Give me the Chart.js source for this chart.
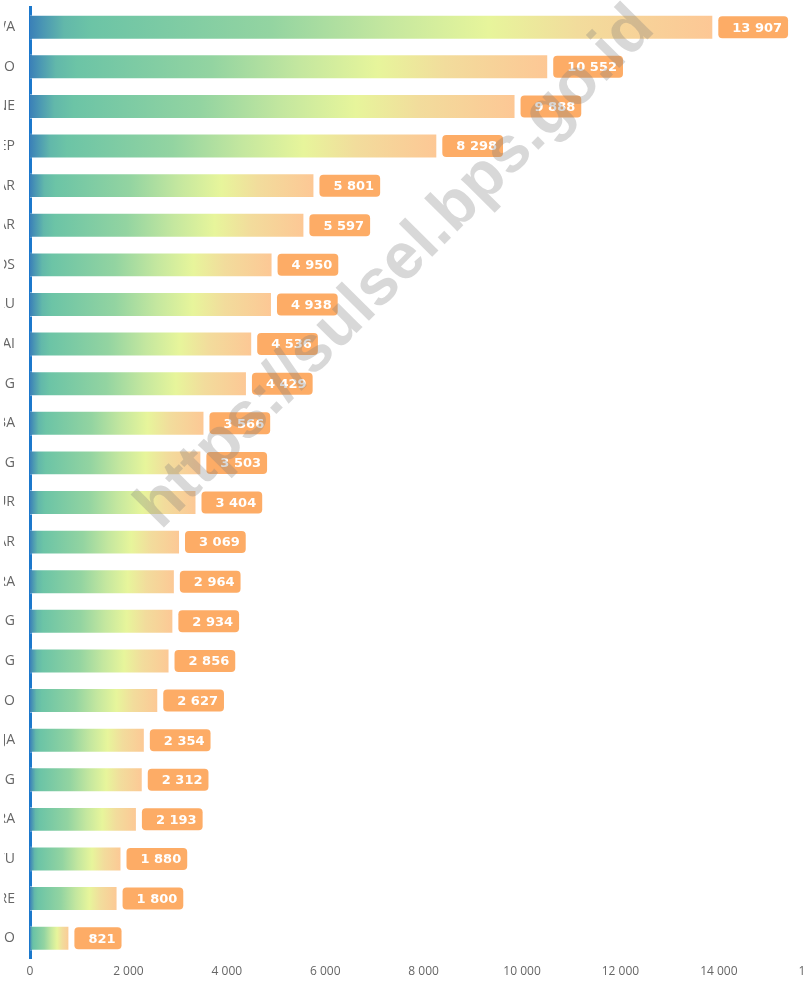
<!DOCTYPE html>
<html>
<head>
<meta charset="utf-8">
<script src="https://cdn.jsdelivr.net/npm/chart.js@4"></script>
<style>
  html, body { margin: 0; padding: 0; background: #fff; overflow: hidden; }
  #bingkai { position: absolute; left: 4px; top: 0; width: 801px; height: 983px; overflow: hidden; }
  #wrap { position: absolute; left: -204px; top: -16px; width: 1042px; height: 999px; }
</style>
</head>
<body>
<div id="bingkai"><div id="wrap"><canvas id="grafik"></canvas></div></div>
<script>
// kabupaten/kota (yang terlihat hanya huruf terakhir)
var wilayah = ["GOWA", "WAJO", "BONE", "PANGKEP", "MAKASSAR", "TAKALAR", "MAROS", "BARRU",
  "SINJAI", "PINRANG", "BULUKUMBA", "SOPPENG", "LUWU TIMUR", "SELAYAR", "LUWU UTARA",
  "SIDENRENG RAPPANG", "ENREKANG", "JENEPONTO", "TANA TORAJA", "BANTAENG", "TORAJA UTARA",
  "LUWU", "PAREPARE", "PALOPO"];
var nilai = [13907, 10552, 9888, 8298, 5801, 5597, 4950, 4938, 4536, 4429, 3566, 3503,
  3404, 3069, 2964, 2934, 2856, 2627, 2354, 2312, 2193, 1880, 1800, 821];
var xMin = 0, xMax = 16000, xStep = 2000;

function ribuan(v) {
  return String(Math.round(v)).replace(/\B(?=(\d{3})+(?!\d))/g, " ");
}

// gradien per batang, dari pangkal ke ujung batang
function warnaBatang(ctx) {
  var chart = ctx.chart;
  if (!chart.chartArea || ctx.dataIndex === undefined) return "#6cc4a6";
  var x = chart.scales.x;
  var x0 = x.getPixelForValue(0);
  var x1 = x.getPixelForValue(nilai[ctx.dataIndex]);
  var g = chart.ctx.createLinearGradient(x0, 0, x1, 0);
  g.addColorStop(0, "#3a80b8");
  g.addColorStop(0.02, "#4b98b3");
  g.addColorStop(0.05, "#62b8aa");
  g.addColorStop(0.09, "#6cc4a6");
  g.addColorStop(0.35, "#93d4a1");
  g.addColorStop(0.52, "#c4e79f");
  g.addColorStop(0.67, "#e7f59b");
  g.addColorStop(0.8, "#f2dc9c");
  g.addColorStop(1, "#fdc795");
  return g;
}

// kotak label oranye di ujung batang
var labelNilai = {
  id: "labelNilai",
  afterDatasetsDraw: function (chart) {
    var c = chart.ctx;
    var meta = chart.getDatasetMeta(0);
    c.save();
    c.font = "bold 13px 'DejaVu Sans', sans-serif";
    c.textBaseline = "middle";
    c.textAlign = "right";
    meta.data.forEach(function (bar, i) {
      var t = ribuan(nilai[i]);
      var w = c.measureText(t).width + 20;
      var h = 22;
      var bx = bar.x + 4;
      var by = bar.y - h / 2;
      c.fillStyle = "#fdac66";
      c.beginPath();
      c.roundRect(bx, by, w, h, 4);
      c.fill();
      c.fillStyle = "#ffffff";
      c.fillText(t, bx + w - 6, bar.y + 1);
    });
    c.restore();
  }
};

// tanda air
var tandaAir = {
  id: "tandaAir",
  afterDraw: function (chart) {
    var c = chart.ctx;
    var teks = "https://sulsel.bps.go.id";
    c.save();
    c.font = "bold 50px 'Liberation Sans', sans-serif";
    var uk = 50 * 705 / c.measureText(teks).width;
    c.font = "bold " + uk.toFixed(1) + "px 'Liberation Sans', sans-serif";
    c.translate(200 + 396, 16 + 268);
    c.rotate(-Math.atan2(515, 510));
    c.textAlign = "center";
    c.textBaseline = "middle";
    c.fillStyle = "rgba(125,125,125,0.3)";
    c.fillText(teks, 0, 0);
    c.restore();
  }
};

new Chart(document.getElementById("grafik"), {
  type: "bar",
  data: {
    labels: wilayah,
    datasets: [{
      data: nilai,
      backgroundColor: warnaBatang,
      borderColor: "rgba(255,255,255,0.45)",
      borderWidth: { top: 1, bottom: 1, right: 2, left: 0 },
      borderSkipped: "left",
      barPercentage: 0.63,
      categoryPercentage: 1
    }]
  },
  options: {
    indexAxis: "y",
    responsive: true,
    maintainAspectRatio: false,
    animation: false,
    layout: { padding: { top: 5, right: 12, left: 0, bottom: 0 } },
    plugins: {
      legend: { display: false },
      tooltip: { enabled: false }
    },
    scales: {
      x: {
        min: xMin,
        max: xMax,
        ticks: {
          stepSize: xStep,
          padding: 6,
          color: "#666",
          font: { family: "'Open Sans', sans-serif", size: 12 },
          callback: function (v) { return ribuan(v); }
        },
        grid: { display: false, drawTicks: false },
        border: { display: false },
        afterFit: function (s) { s.height = 25; }
      },
      y: {
        ticks: {
          padding: 15,
          color: "#666",
          font: { family: "'Open Sans', sans-serif", size: 14 }
        },
        grid: { display: false, drawTicks: false },
        border: { display: true, color: "#1b78cc", width: 3 },
        afterFit: function (s) { s.width = 230; }
      }
    }
  },
  plugins: [labelNilai, tandaAir]
});
</script>
</body>
</html>
